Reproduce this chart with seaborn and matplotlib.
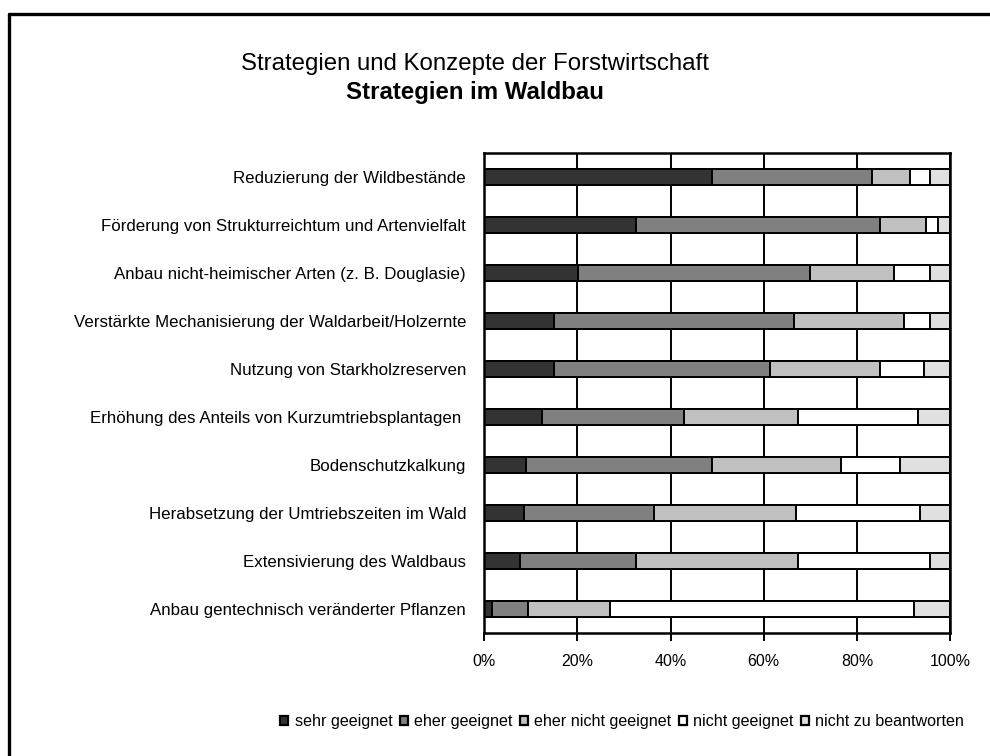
import numpy as np
import pandas as pd
import matplotlib
matplotlib.use('Agg')
import matplotlib.pyplot as plt
import seaborn as sns
from matplotlib.patches import Patch
from matplotlib.lines import Line2D
from matplotlib.ticker import PercentFormatter

# Data (percent of answers)
strategies = [
    'Reduzierung der Wildbestände',
    'Förderung von Strukturreichtum und Artenvielfalt',
    'Anbau nicht-heimischer Arten (z. B. Douglasie)',
    'Verstärkte Mechanisierung der Waldarbeit/Holzernte',
    'Nutzung von Starkholzreserven',
    'Erhöhung des Anteils von Kurzumtriebsplantagen ',
    'Bodenschutzkalkung',
    'Herabsetzung der Umtriebszeiten im Wald',
    'Extensivierung des Waldbaus',
    'Anbau gentechnisch veränderter Pflanzen',
]
sehr_geeignet = [49.0, 32.6, 20.2, 15.0, 15.0, 12.5, 8.9, 8.5, 7.7, 1.7]
eher_geeignet = [34.2, 52.4, 49.7, 51.6, 46.3, 30.4, 40.1, 28.0, 24.9, 7.7]
eher_nicht_geeignet = [8.2, 9.8, 18.1, 23.5, 23.7, 24.4, 27.5, 30.4, 34.8, 17.6]
nicht_geeignet = [4.3, 2.6, 7.7, 5.6, 9.5, 25.8, 12.8, 26.7, 28.3, 65.3]
nicht_zu_beantworten = [4.3, 2.6, 4.3, 4.3, 5.5, 6.9, 10.7, 6.4, 4.3, 7.7]

answers = ['sehr geeignet', 'eher geeignet', 'eher nicht geeignet',
           'nicht geeignet', 'nicht zu beantworten']
colors = ['#333333', '#808080', '#c0c0c0', '#ffffff', '#e0e0e0']

df = pd.DataFrame({
    'Strategie': strategies,
    answers[0]: sehr_geeignet,
    answers[1]: eher_geeignet,
    answers[2]: eher_nicht_geeignet,
    answers[3]: nicht_geeignet,
    answers[4]: nicht_zu_beantworten,
})
# cumulative sums for stacking
cum = df[answers].cumsum(axis=1)

sns.set_style('white')
plt.rcParams['font.family'] = ['Liberation Sans', 'DejaVu Sans']
plt.rcParams['text.color'] = 'black'
plt.rcParams['xtick.color'] = 'black'
plt.rcParams['ytick.color'] = 'black'

fig = plt.figure(figsize=(9.9, 7.56), dpi=100)
ax = fig.add_axes([0.489, 0.1627, 0.4707, 0.6349])

# draw the longest cumulative bar first, shorter ones on top
for col, c in reversed(list(zip(answers, colors))):
    sns.barplot(x=cum[col], y=df['Strategie'], orient='h', color=c,
                edgecolor='black', linewidth=1.4, width=0.35,
                saturation=1, ax=ax)

ax.set_xlim(0, 100)
ax.set_ylim(len(strategies) - 0.5, -0.5)
ax.set_xticks([0, 20, 40, 60, 80, 100])
ax.xaxis.set_major_formatter(PercentFormatter(decimals=0))
ax.set_xlabel('')
ax.set_ylabel('')
ax.xaxis.grid(True, color='black', linewidth=1.4)
ax.set_axisbelow(True)
ax.tick_params(axis='x', direction='out', length=6, width=1.4, color='black',
               labelcolor='black', labelsize=11.5, pad=9, bottom=True)
ax.tick_params(axis='y', length=0, labelcolor='black', labelsize=12.2, pad=13)
for s in ax.spines.values():
    s.set_color('black')
    s.set_linewidth(1.8)
    s.set_visible(True)

# titles
fig.text(0.48, 0.916, 'Strategien und Konzepte der Forstwirtschaft',
         ha='center', va='center', fontsize=17.3, color='black')
fig.text(0.48, 0.878, 'Strategien im Waldbau', ha='center', va='center',
         fontsize=17.3, fontweight='bold', color='black')

# legend
handles = [Patch(facecolor=c, edgecolor='black', linewidth=1.6) for c in colors]
fig.legend(handles, answers, loc='center', bbox_to_anchor=(0.6285, 0.045),
           ncol=5, frameon=False, fontsize=11.6, handlelength=0.5,
           handleheight=0.5, handletextpad=0.4, columnspacing=0.45,
           borderpad=0, borderaxespad=0, labelcolor='black')

# outer frame (left and top edges visible)
fig.add_artist(Line2D([0.0091, 0.0091], [0, 0.9815], transform=fig.transFigure,
                      color='black', linewidth=2.4))
fig.add_artist(Line2D([0.0091, 1], [0.9815, 0.9815], transform=fig.transFigure,
                      color='black', linewidth=2.4))

fig.savefig('out.png', dpi=100)
